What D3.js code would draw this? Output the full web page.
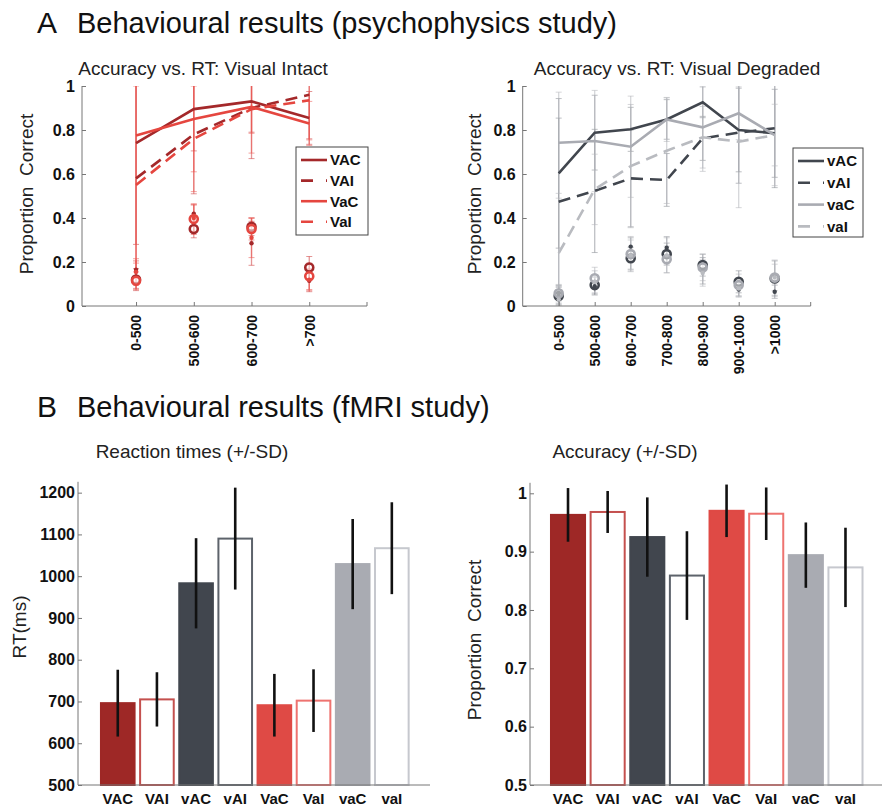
<!DOCTYPE html>
<html>
<head>
<meta charset="utf-8">
<script src="https://cdn.jsdelivr.net/npm/d3@7/dist/d3.min.js"></script>
<style>
  body { margin: 0; background: #fff; }
  text { font-family: "Liberation Sans", Arial, Helvetica, sans-serif; }
</style>
</head>
<body>
<script>
// ---------------- DATA ----------------
// Panel A left: Visual Intact
const intactCats = ["0-500", "500-600", "600-700", ">700"];
const intactNames = ["VAC", "VAI", "VaC", "VaI"];
const intactVAC = [0.74, 0.895, 0.93, 0.855];
const intactVAI = [0.58, 0.78, 0.90, 0.96];
const intactVaC = [0.775, 0.85, 0.905, 0.83];
const intactVaI = [0.55, 0.76, 0.895, 0.935];
const intactVAC_sd = [0.46, 0.19, 0.14, 0.12];
const intactVAI_sd = [0.50, 0.27, 0.23, 0.20];
const intactVaC_sd = [0.58, 0.24, 0.12, 0.10];
const intactVaI_sd = [0.45, 0.24, 0.20, 0.18];
// secondary points (circles / dots)
const intactVAC_pt = [0.12, 0.35, 0.36, 0.175];
const intactVAI_pt = [0.165, 0.42, 0.285, 0.115];
const intactVaC_pt = [0.115, 0.395, 0.35, 0.135];
const intactVaI_pt = [0.155, 0.40, 0.31, 0.12];
const intactVAC_ptsd = [0.05, 0.04, 0.04, 0.05];
const intactVAI_ptsd = [0.04, 0.04, 0.10, 0.05];
const intactVaC_ptsd = [0.04, 0.07, 0.05, 0.06];
const intactVaI_ptsd = [0.06, 0.06, 0.09, 0.05];

// Panel A right: Visual Degraded
const degradedCats = ["0-500", "500-600", "600-700", "700-800", "800-900", "900-1000", ">1000"];
const degradedNames = ["vAC", "vAI", "vaC", "vaI"];
const degradedvAC = [0.603, 0.788, 0.803, 0.848, 0.926, 0.80, 0.785];
const degradedvAI = [0.474, 0.523, 0.58, 0.573, 0.762, 0.788, 0.808];
const degradedvaC = [0.742, 0.75, 0.724, 0.848, 0.812, 0.876, 0.777];
const degradedvaI = [0.24, 0.53, 0.636, 0.706, 0.767, 0.747, 0.777];
const degradedvAC_sd = [0.34, 0.17, 0.10, 0.09, 0.07, 0.19, 0.20];
const degradedvAI_sd = [0.38, 0.28, 0.22, 0.12, 0.10, 0.23, 0.27];
const degradedvaC_sd = [0.23, 0.23, 0.23, 0.10, 0.20, 0.12, 0.23];
const degradedvaI_sd = [0.25, 0.16, 0.28, 0.24, 0.14, 0.30, 0.14];
const degradedvAC_pt = [0.045, 0.095, 0.217, 0.236, 0.186, 0.11, 0.125];
const degradedvAI_pt = [0.05, 0.09, 0.27, 0.265, 0.16, 0.075, 0.065];
const degradedvaC_pt = [0.058, 0.126, 0.236, 0.212, 0.175, 0.095, 0.129];
const degradedvaI_pt = [0.03, 0.11, 0.23, 0.23, 0.15, 0.08, 0.13];
const degradedvAC_ptsd = [0.04, 0.04, 0.05, 0.05, 0.05, 0.05, 0.08];
const degradedvAI_ptsd = [0.04, 0.04, 0.04, 0.05, 0.06, 0.03, 0.03];
const degradedvaC_ptsd = [0.04, 0.05, 0.08, 0.06, 0.06, 0.05, 0.08];
const degradedvaI_ptsd = [0.03, 0.05, 0.07, 0.08, 0.06, 0.04, 0.06];

// Panel B: fMRI study
const condCats = ["VAC", "VAI", "vAC", "vAI", "VaC", "VaI", "vaC", "vaI"];
const rtMean = [696, 705, 983, 1090, 691, 702, 1029, 1067];
const rtSD = [80, 65, 108, 122, 75, 75, 108, 110];
const accMean = [0.963, 0.968, 0.925, 0.859, 0.970, 0.965, 0.894, 0.873];
const accSD = [0.046, 0.036, 0.068, 0.076, 0.045, 0.045, 0.056, 0.068];
const rtTicks = [500, 600, 700, 800, 900, 1000, 1100, 1200];
const accTicks = [0.5, 0.6, 0.7, 0.8, 0.9, 1];
const propTicks = [0, 0.2, 0.4, 0.6, 0.8, 1];

// ---------------- STYLE ----------------
const cDarkRed = "#A4282A", cRed = "#E5463F", cDark = "#41464E", cLight = "#A9ABB2";
const barFill = ["#9E2826", "#ffffff", "#41464E", "#ffffff", "#DF4A45", "#ffffff", "#A9ABB2", "#ffffff"];
const barStroke = ["#9E2826", "#C4504E", "#41464E", "#5D636B", "#DF4A45", "#EE7370", "#A9ABB2", "#C6C8CE"];
const axisColor = "#777";

const svg = d3.select("body").append("svg").attr("width", 882).attr("height", 807);

// headers
function header(letter, txt, y) {
  svg.append("text").attr("x", 37).attr("y", y).attr("font-size", 30).attr("fill", "#111").text(letter);
  svg.append("text").attr("x", 77).attr("y", y).attr("font-size", 29).attr("fill", "#111").text(txt);
}
header("A", "Behavioural results (psychophysics study)", 33);
header("B", "Behavioural results (fMRI study)", 417);

const fmtProp = d => (d === 0 ? "0" : d === 1 ? "1" : d.toFixed(1));

// ---------------- LINE PANELS ----------------
function linePanel(cfg) {
  const g = svg.append("g");
  const x = cfg.x, y = cfg.y;
  const [x0, x1] = x.range();
  const [yb, yt] = y.range();
  const clipId = cfg.id + "clip";
  svg.append("defs").append("clipPath").attr("id", clipId)
    .append("rect").attr("x", x0).attr("y", yt).attr("width", x1 - x0).attr("height", yb - yt);

  const plot = g.append("g").attr("clip-path", `url(#${clipId})`);
  const line = d3.line().x((d, i) => x(i + 1)).y(d => y(d));

  // error bars
  cfg.series.forEach(s => {
    const drawErr = (vals, sds) => {
      vals.forEach((v, i) => {
        const cx = x(i + 1);
        const lo = y(v - sds[i]), hi = y(v + sds[i]);
        plot.append("line").attr("x1", cx).attr("x2", cx).attr("y1", lo).attr("y2", hi)
          .attr("stroke", s.errColor).attr("stroke-width", 1.3).attr("opacity", 0.55);
        [lo, hi].forEach(yy => plot.append("line").attr("x1", cx - 3).attr("x2", cx + 3)
          .attr("y1", yy).attr("y2", yy).attr("stroke", s.errColor).attr("stroke-width", 1).attr("opacity", 0.55));
      });
    };
    drawErr(s.vals, s.sd);
    drawErr(s.pts, s.ptsd);
  });
  // lines
  cfg.series.forEach(s => {
    plot.append("path").datum(s.vals).attr("d", line).attr("fill", "none")
      .attr("stroke", s.color).attr("stroke-width", 2.6)
      .attr("stroke-dasharray", s.dashed ? "12,7" : null);
  });
  // markers
  cfg.series.forEach(s => {
    s.pts.forEach((v, i) => {
      if (s.dashed) {
        plot.append("circle").attr("cx", x(i + 1)).attr("cy", y(v)).attr("r", 2.2).attr("fill", s.color);
      } else {
        plot.append("circle").attr("cx", x(i + 1)).attr("cy", y(v)).attr("r", 4)
          .attr("fill", "#fff").attr("fill-opacity", 0.5).attr("stroke", s.color).attr("stroke-width", 2.6);
      }
    });
  });

  // axes
  const ya = g.append("g").attr("transform", `translate(${x0},0)`)
    .call(d3.axisLeft(y).tickValues(propTicks).tickFormat(fmtProp).tickSize(-4).tickPadding(7));
  ya.select(".domain").remove();
  ya.selectAll("line").attr("stroke", axisColor);
  ya.selectAll("text").attr("font-size", 16).attr("font-weight", "bold").attr("fill", "#111")
    .style("font-family", "'Liberation Sans', Arial, sans-serif");
  g.append("line").attr("x1", x0).attr("x2", x0).attr("y1", yt).attr("y2", yb).attr("stroke", axisColor);

  const xa = g.append("g").attr("transform", `translate(0,${yb})`)
    .call(d3.axisBottom(x).tickValues(cfg.cats.map((c, i) => i + 1)).tickFormat((d, i) => cfg.cats[i])
      .tickSize(-4).tickPadding(9));
  xa.select(".domain").remove();
  xa.selectAll("line").attr("stroke", axisColor);
  xa.selectAll("text").attr("font-size", 14).attr("font-weight", "bold").attr("fill", "#111")
    .style("font-family", "'Liberation Sans', Arial, sans-serif")
    .attr("text-anchor", "end").attr("dy", "0.35em")
    .attr("transform", "translate(0,9) rotate(-90)").attr("y", 0).attr("x", 0);
  g.append("line").attr("x1", x0).attr("x2", x1).attr("y1", yb).attr("y2", yb).attr("stroke", axisColor);
  g.append("line").attr("x1", x1).attr("x2", x1).attr("y1", yb).attr("y2", yb - 4).attr("stroke", axisColor);

  // titles
  g.append("text").attr("x", cfg.titleX).attr("y", 75).attr("text-anchor", "middle")
    .attr("font-size", 19).attr("fill", "#222").text(cfg.title);
  g.append("text").attr("transform", `translate(${cfg.ylabX},${(yt + yb) / 2 - 2}) rotate(-90)`)
    .attr("text-anchor", "middle").attr("font-size", 19).attr("fill", "#222")
    .style("white-space", "pre").text("Proportion  Correct");

  // legend
  const L = cfg.legend;
  g.append("rect").attr("x", L.x).attr("y", L.y).attr("width", L.w).attr("height", L.h)
    .attr("fill", "#fff").attr("stroke", "#444").attr("stroke-width", 1);
  cfg.series.forEach((s, i) => {
    const yy = L.y + 13 + i * L.step;
    g.append("line").attr("x1", L.x + 5).attr("x2", L.x + 31).attr("y1", yy).attr("y2", yy)
      .attr("stroke", s.color).attr("stroke-width", 2.6)
      .attr("stroke-dasharray", s.dashed ? "12,13" : null);
    g.append("text").attr("x", L.x + 34).attr("y", yy).attr("dy", "0.36em")
      .attr("font-size", 15).attr("font-weight", "bold").attr("fill", "#111").text(s.name);
  });
}

const yProp = d3.scaleLinear().domain([0, 1]).range([306, 86]);

linePanel({
  id: "intact",
  x: d3.scaleLinear().domain([0.064, intactCats.length + 1]).range([82, 367]),
  y: yProp, cats: intactCats,
  title: "Accuracy vs. RT: Visual Intact", titleX: 203, ylabX: 33,
  legend: { x: 296, y: 147, w: 72, h: 88, step: 20.6 },
  series: [
    { name: intactNames[0], vals: intactVAC, sd: intactVAC_sd, pts: intactVAC_pt, ptsd: intactVAC_ptsd, color: cDarkRed, errColor: "#D04040", dashed: false },
    { name: intactNames[1], vals: intactVAI, sd: intactVAI_sd, pts: intactVAI_pt, ptsd: intactVAI_ptsd, color: cDarkRed, errColor: "#D04040", dashed: true },
    { name: intactNames[2], vals: intactVaC, sd: intactVaC_sd, pts: intactVaC_pt, ptsd: intactVaC_ptsd, color: cRed, errColor: "#EE5A55", dashed: false },
    { name: intactNames[3], vals: intactVaI, sd: intactVaI_sd, pts: intactVaI_pt, ptsd: intactVaI_ptsd, color: cRed, errColor: "#EE5A55", dashed: true }
  ]
});

linePanel({
  id: "degraded",
  x: d3.scaleLinear().domain([0, degradedCats.length + 1]).range([522.7, 810.7]),
  y: yProp, cats: degradedCats,
  title: "Accuracy vs. RT: Visual Degraded", titleX: 677, ylabX: 481,
  legend: { x: 793, y: 148, w: 70, h: 89, step: 21.8 },
  series: [
    { name: degradedNames[0], vals: degradedvAC, sd: degradedvAC_sd, pts: degradedvAC_pt, ptsd: degradedvAC_ptsd, color: cDark, errColor: "#8A8E95", dashed: false },
    { name: degradedNames[1], vals: degradedvAI, sd: degradedvAI_sd, pts: degradedvAI_pt, ptsd: degradedvAI_ptsd, color: cDark, errColor: "#8A8E95", dashed: true },
    { name: degradedNames[2], vals: degradedvaC, sd: degradedvaC_sd, pts: degradedvaC_pt, ptsd: degradedvaC_ptsd, color: cLight, errColor: "#B5B7BC", dashed: false },
    { name: degradedNames[3], vals: degradedvaI, sd: degradedvaI_sd, pts: degradedvaI_pt, ptsd: degradedvaI_ptsd, color: "#B9BBC0", errColor: "#B5B7BC", dashed: true }
  ]
});

// ---------------- BAR PANELS ----------------
function barPanel(cfg) {
  const g = svg.append("g");
  const x = d3.scaleBand().domain(condCats).range(cfg.xRange).paddingInner(0.09).paddingOuter(0.05);
  const y = cfg.y;
  const [yb, yt] = y.range();
  const base = y.domain()[0];

  g.selectAll("rect.bar").data(cfg.mean).enter().append("rect").attr("class", "bar")
    .attr("x", (d, i) => x(condCats[i]) + 1)
    .attr("width", x.bandwidth() - 2)
    .attr("y", d => y(d))
    .attr("height", d => y(base) - y(d))
    .attr("fill", (d, i) => barFill[i])
    .attr("stroke", (d, i) => barStroke[i])
    .attr("stroke-width", 2);

  g.selectAll("line.err").data(cfg.mean).enter().append("line").attr("class", "err")
    .attr("x1", (d, i) => x(condCats[i]) + x.bandwidth() / 2)
    .attr("x2", (d, i) => x(condCats[i]) + x.bandwidth() / 2)
    .attr("y1", (d, i) => y(d - cfg.sd[i]))
    .attr("y2", (d, i) => y(d + cfg.sd[i]))
    .attr("stroke", "#111").attr("stroke-width", 2.6);

  const ya = g.append("g").attr("transform", `translate(${cfg.axisX},0)`)
    .call(d3.axisLeft(y).tickValues(cfg.ticks).tickFormat(cfg.fmt).tickSize(-4).tickPadding(3));
  ya.select(".domain").remove();
  ya.selectAll("line").attr("stroke", axisColor);
  ya.selectAll("text").attr("font-size", 16).attr("font-weight", "bold").attr("fill", "#111")
    .style("font-family", "'Liberation Sans', Arial, sans-serif");
  g.append("line").attr("x1", cfg.axisX).attr("x2", cfg.axisX).attr("y1", yt).attr("y2", yb).attr("stroke", axisColor);

  const xa = g.append("g").attr("transform", `translate(0,${yb})`)
    .call(d3.axisBottom(x).tickSize(0).tickPadding(8));
  xa.select(".domain").remove();
  xa.selectAll("text").attr("font-size", 15).attr("font-weight", "bold").attr("fill", "#111")
    .style("font-family", "'Liberation Sans', Arial, sans-serif");
  g.append("line").attr("x1", cfg.axisX).attr("x2", cfg.xEnd).attr("y1", yb).attr("y2", yb).attr("stroke", axisColor);

  g.append("text").attr("x", cfg.titleX).attr("y", 458).attr("text-anchor", "middle")
    .attr("font-size", 19).attr("fill", "#222").text(cfg.title);
  g.append("text").attr("transform", `translate(${cfg.ylabX},${cfg.ylabY}) rotate(-90)`)
    .attr("text-anchor", "middle").attr("font-size", 19).attr("fill", "#222")
    .style("white-space", "pre").text(cfg.ylab);
}

barPanel({
  xRange: [98, 411.6], axisX: 78, xEnd: 430,
  y: d3.scaleLinear().domain([500, 1226]).range([785, 481.8]),
  mean: rtMean, sd: rtSD, ticks: rtTicks, fmt: d3.format("d"),
  title: "Reaction times (+/-SD)", titleX: 192,
  ylab: "RT(ms)", ylabX: 26, ylabY: 627
});

barPanel({
  xRange: [548, 865.5], axisX: 530, xEnd: 882,
  y: d3.scaleLinear().domain([0.5, 1.018]).range([785, 482.8]),
  mean: accMean, sd: accSD, ticks: accTicks, fmt: fmtProp,
  title: "Accuracy (+/-SD)", titleX: 625,
  ylab: "Proportion  Correct", ylabX: 481, ylabY: 640
});
</script>
</body>
</html>
